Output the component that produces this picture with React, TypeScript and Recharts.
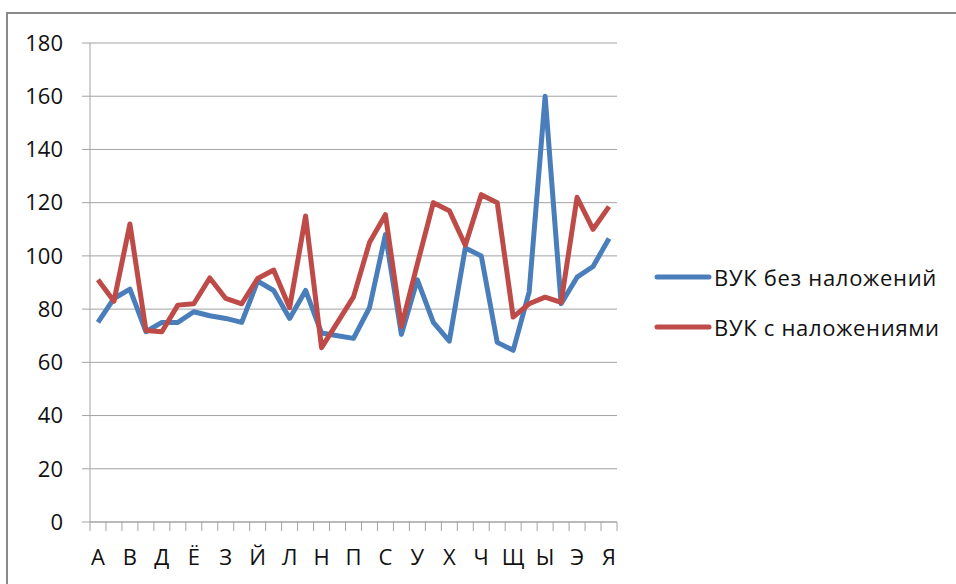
import React from 'react';
import { LineChart, Line, XAxis, YAxis, CartesianGrid } from 'recharts';

// Categories: letters of the Russian alphabet
const letters = ['А','Б','В','Г','Д','Е','Ё','Ж','З','И','Й','К','Л','М','Н','О','П','Р','С','Т','У','Ф','Х','Ц','Ч','Ш','Щ','Ъ','Ы','Ь','Э','Ю','Я'];

// Series values
const withoutOverlap = [75, 84, 87.5, 71.5, 75, 75, 79, 77.5, 76.5, 75, 90.5, 87, 76.5, 87, 71, 70, 69, 80.5, 108, 70.5, 91, 75, 68, 103, 100, 67.5, 64.5, 86.5, 160, 82, 92, 96, 106.5];
const withOverlap = [91, 83, 112, 72, 71.5, 81.5, 82, 91.7, 84, 82, 91.5, 94.7, 80.5, 115, 65.5, 75, 84.6, 105, 115.5, 73.5, 97, 120, 117, 104, 123, 120, 77, 82, 84.5, 82.5, 122, 110, 118.5];

const yTicks = [0, 20, 40, 60, 80, 100, 120, 140, 160, 180];

const SERIES_A = 'ВУК без наложений';
const SERIES_B = 'ВУК с наложениями';

const data = letters.map((letter, i) => ({
  letter,
  a: withoutOverlap[i],
  b: withOverlap[i],
}));

const W = 956;
const H = 584;
const MARGIN = { top: 43, right: 339, left: 0, bottom: 0 };
const Y_AXIS_W = 90;
const X_AXIS_H = 62;
const PLOT_W = W - MARGIN.right - Y_AXIS_W;
const BAND = PLOT_W / letters.length;

const FONT = '"Open Sans", "Liberation Sans", sans-serif';
const GRID = '#a3a3a3';
const BLUE = '#4a7ebb';
const RED = '#be4b48';
const LINE_W = 5;

const legendItems = [
  { name: SERIES_A, color: BLUE },
  { name: SERIES_B, color: RED },
];

// Bottom axis tick: tick marks sit on the band boundaries, labels on every other category
const XTick = (props: any) => {
  const { x, y, payload, index } = props;
  const half = BAND / 2;
  const last = index === letters.length - 1;
  return (
    <g>
      <line x1={x - half} x2={x - half} y1={y} y2={y + 9} stroke={GRID} strokeWidth={1} />
      {last && <line x1={x + half} x2={x + half} y1={y} y2={y + 9} stroke={GRID} strokeWidth={1} />}
      {index % 2 === 0 && (
        <text x={x} y={y + 43} textAnchor="middle" fontFamily={FONT} fontSize={22} fill="#111">
          {payload.value}
        </text>
      )}
    </g>
  );
};

export default function App() {
  return (
    <div style={{ position: 'fixed', left: 0, top: 0, width: W, height: H, overflow: 'hidden', background: '#fff' }}>
      <div style={{ position: 'absolute', left: 0, top: 0 }}>
        <LineChart width={W} height={H} data={data} margin={MARGIN}>
          <CartesianGrid horizontal vertical={false} stroke={GRID} strokeWidth={1} />
          <XAxis
            dataKey="letter"
            height={X_AXIS_H}
            interval={0}
            padding={{ left: BAND / 2, right: BAND / 2 }}
            tickLine={false}
            tickSize={0}
            tickMargin={0}
            axisLine={{ stroke: GRID }}
            tick={<XTick />}
          />
          <YAxis
            width={Y_AXIS_W}
            domain={[0, 180]}
            ticks={yTicks}
            interval={0}
            tickSize={8}
            tickMargin={19}
            tickLine={{ stroke: GRID }}
            axisLine={{ stroke: GRID }}
            tick={{ fontFamily: FONT, fontSize: 22, fill: '#111' }}
          />
          <Line
            type="linear"
            dataKey="a"
            name={SERIES_A}
            stroke={BLUE}
            strokeWidth={LINE_W}
            strokeLinejoin="round"
            dot={false}
            activeDot={false}
            isAnimationActive={false}
          />
          <Line
            type="linear"
            dataKey="b"
            name={SERIES_B}
            stroke={RED}
            strokeWidth={LINE_W}
            strokeLinejoin="round"
            dot={false}
            activeDot={false}
            isAnimationActive={false}
          />
        </LineChart>
      </div>
      {/* legend */}
      <div style={{ position: 'absolute', left: 654, top: 252, fontFamily: FONT, fontSize: 22, letterSpacing: 0.7, color: '#111' }}>
        {legendItems.map((p) => (
          <div key={p.name} style={{ display: 'flex', alignItems: 'center', height: 50, whiteSpace: 'nowrap' }}>
            <svg width={58} height={8} style={{ marginRight: 2 }}>
              <line x1={3} x2={55} y1={4} y2={4} stroke={p.color} strokeWidth={LINE_W} strokeLinecap="round" />
            </svg>
            <span>{p.name}</span>
          </div>
        ))}
      </div>
      {/* chart area frame */}
      <div
        style={{
          position: 'absolute',
          left: 6,
          top: 12,
          width: 2000,
          height: 2000,
          border: '2px solid #8a8a8a',
          pointerEvents: 'none',
        }}
      />
    </div>
  );
}
